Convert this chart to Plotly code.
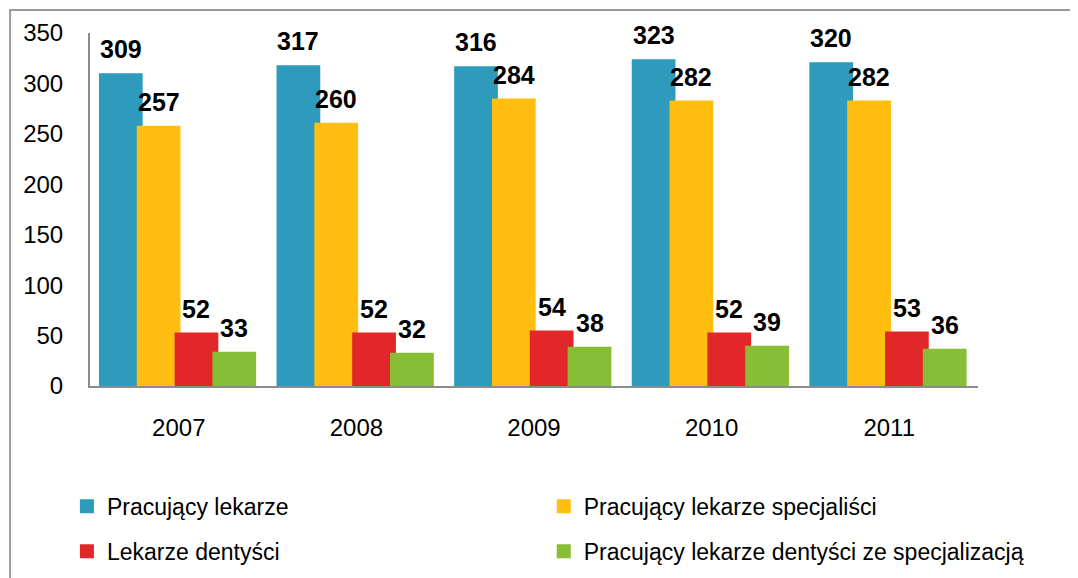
import plotly.graph_objects as go

years = ["2007", "2008", "2009", "2010", "2011"]
series_names = [
    "Pracujący lekarze",
    "Pracujący lekarze specjaliści",
    "Lekarze dentyści",
    "Pracujący lekarze dentyści ze specjalizacją",
]
lekarze = [309, 317, 316, 323, 320]
specjalisci = [257, 260, 284, 282, 282]
dentysci = [52, 52, 54, 52, 53]
dentysci_spec = [33, 32, 38, 39, 36]

colors = ["#2E9BBD", "#FFBE10", "#E2272B", "#87BE36"]
values = [lekarze, specjalisci, dentysci, dentysci_spec]

# bars overlap a little, like in the original (category units)
bar_w = 0.235
offsets = [-0.444, -0.231, -0.018, 0.195]

# legend slots: x in plot-area fraction, y in whole-figure fraction
legend_pos = [(-0.026, 0.126), (0.511, 0.126), (-0.026, 0.047), (0.511, 0.047)]

FONT = "Liberation Sans, Arial, sans-serif"

fig = go.Figure()
for i, (name, vals) in enumerate(zip(series_names, values)):
    lg = "legend" if i == 0 else f"legend{i + 1}"
    fig.add_trace(go.Bar(
        x=years, y=vals, name=name,
        width=bar_w, offset=offsets[i],
        marker=dict(color=colors[i], line=dict(width=2, color=colors[i])),
        legend=lg,
        hoverinfo="y+name",
    ))
    # value labels sit a bit higher above the bars than plotly's default
    for j, v in enumerate(vals):
        fig.add_annotation(
            x=j + offsets[i] + bar_w / 2, y=v, xref="x", yref="y",
            text=f"<b>{v}</b>", showarrow=False,
            yanchor="bottom", yshift=9,
            font=dict(family=FONT, size=25, color="black"),
        )

layout_legends = {}
for i, (lx, ly) in enumerate(legend_pos):
    key = "legend" if i == 0 else f"legend{i + 1}"
    layout_legends[key] = dict(
        x=lx, y=ly, xanchor="left", yanchor="middle", yref="container",
        font=dict(family=FONT, size=23, color="black"),
        bgcolor="rgba(0,0,0,0)",
    )

# the page body adds an 8px margin, so the figure is a little smaller
fig.update_layout(
    width=1070, height=570,
    margin=dict(l=82, r=100, t=25, b=192),
    plot_bgcolor="white", paper_bgcolor="white",
    barmode="group",
    showlegend=True,
    font=dict(family=FONT, size=22, color="black"),
    **layout_legends,
)

fig.update_xaxes(
    type="category", range=[-0.5, 4.5],
    showline=True, linecolor="#8c8c8c", linewidth=2,
    showgrid=False, ticks="",
    tickfont=dict(family=FONT, size=24, color="black"),
    ticklabelstandoff=19,
)
fig.update_yaxes(
    range=[0, 350], dtick=50,
    showline=True, linecolor="#8c8c8c", linewidth=2,
    showgrid=False, zeroline=False, ticks="",
    tickfont=dict(family=FONT, size=24, color="black"),
    ticklabelstandoff=20,
)

# outer frame of the chart
fig.add_shape(
    type="rect", xref="paper", yref="paper",
    x0=-0.09, x1=1.3, y0=-1.0, y1=1.065,
    line=dict(color="#9a9a9a", width=2),
    layer="below",
)

fig.write_html("out.html")
